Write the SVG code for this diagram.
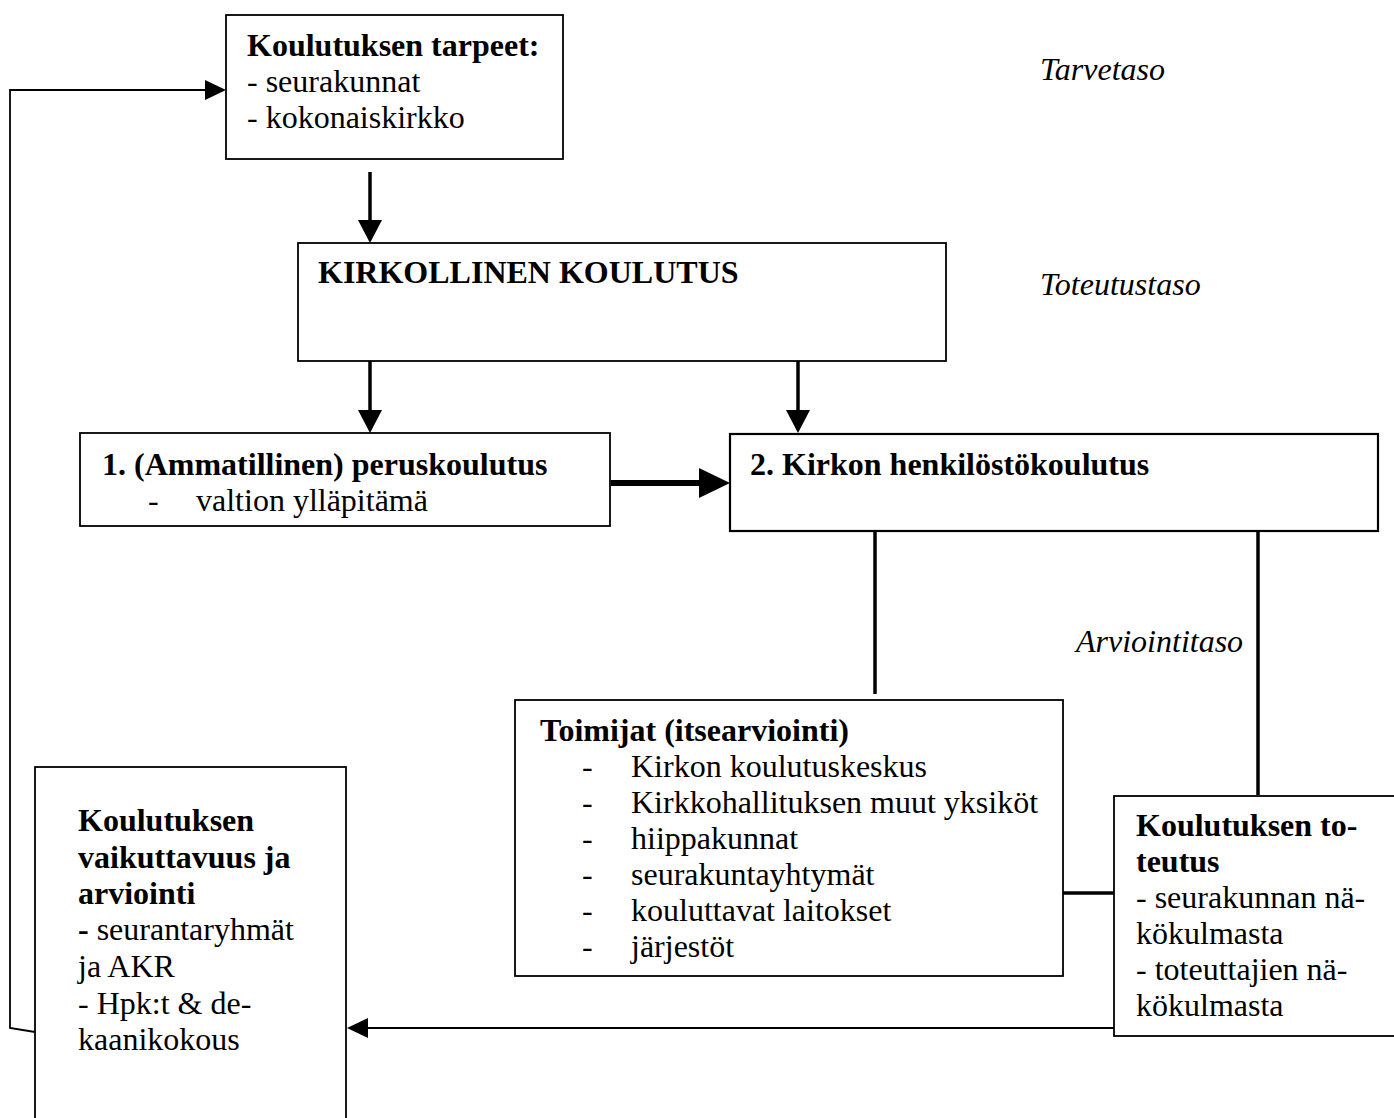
<svg xmlns="http://www.w3.org/2000/svg" width="1394" height="1118" viewBox="0 0 1394 1118">
<style>
text{font-family:"Liberation Serif","Times New Roman",serif;font-size:32px;fill:#000}
.b{font-weight:bold}
.i{font-style:italic}
.box{fill:#fff;stroke:#000;stroke-width:1.8}
.c3{fill:none;stroke:#000;stroke-width:3.5}
.c6{fill:none;stroke:#000;stroke-width:6}
.c1{fill:none;stroke:#000;stroke-width:1.8}
</style>
<defs>
<marker id="am" markerUnits="userSpaceOnUse" markerWidth="24" markerHeight="24" refX="0" refY="12" orient="auto" viewBox="0 0 24 24"><path d="M0,0 L23,12 L0,24 z" fill="#000"/></marker>
<marker id="al" markerUnits="userSpaceOnUse" markerWidth="32" markerHeight="30" refX="0" refY="15" orient="auto" viewBox="0 0 32 30"><path d="M0,0 L31,15 L0,30 z" fill="#000"/></marker>
<marker id="as" markerUnits="userSpaceOnUse" markerWidth="22" markerHeight="20" refX="0" refY="10" orient="auto" viewBox="0 0 22 20"><path d="M0,0 L21,10 L0,20 z" fill="#000"/></marker>
</defs>
<g id="connectors">
<line class="c3" x1="370" y1="172" x2="370" y2="220" marker-end="url(#am)"/>
<line class="c3" x1="370" y1="361" x2="370" y2="410" marker-end="url(#am)"/>
<line class="c3" x1="798" y1="361" x2="798" y2="410" marker-end="url(#am)"/>
<line class="c6" x1="611" y1="483" x2="699" y2="483" marker-end="url(#al)"/>
<line class="c3" x1="875" y1="531" x2="875" y2="694"/>
<line class="c3" x1="1258" y1="531" x2="1258" y2="795"/>
<line class="c3" x1="1063" y1="893" x2="1114" y2="893"/>
<line class="c1" x1="1114" y1="1028" x2="368" y2="1028" marker-end="url(#as)"/>
<polyline class="c1" points="35,1032 10,1028 10,90 205,90" marker-end="url(#as)"/>
</g>
<g id="tarpeet">
<rect class="box" x="226" y="15" width="337" height="144"/>
<text class="b" x="247" y="56">Koulutuksen tarpeet:</text>
<text x="247" y="92">- seurakunnat</text>
<text x="247" y="128">- kokonaiskirkko</text>
</g>
<g id="tarvetaso"><text class="i" x="1040" y="80">Tarvetaso</text></g>
<g id="kirkollinen">
<rect class="box" x="298" y="243" width="648" height="118"/>
<text class="b" x="318" y="283">KIRKOLLINEN KOULUTUS</text>
</g>
<g id="toteutustaso"><text class="i" x="1040" y="295">Toteutustaso</text></g>
<g id="peruskoulutus">
<rect class="box" x="80" y="433" width="530" height="93"/>
<text class="b" x="102" y="475">1. (Ammatillinen) peruskoulutus</text>
<text x="148" y="511">-</text>
<text x="196" y="511">valtion ylläpitämä</text>
</g>
<g id="henkilosto">
<rect class="box" x="730" y="434" width="648" height="97" style="stroke-width:2.2"/>
<text class="b" x="750" y="475">2. Kirkon henkilöstökoulutus</text>
</g>
<g id="arviointitaso"><text class="i" x="1076" y="652">Arviointitaso</text></g>
<g id="toimijat">
<rect class="box" x="515" y="700" width="548" height="276"/>
<text class="b" x="540" y="741">Toimijat (itsearviointi)</text>
<text x="582" y="777">-</text><text x="631" y="777">Kirkon koulutuskeskus</text>
<text x="582" y="813">-</text><text x="631" y="813">Kirkkohallituksen muut yksiköt</text>
<text x="582" y="849">-</text><text x="631" y="849">hiippakunnat</text>
<text x="582" y="885">-</text><text x="631" y="885">seurakuntayhtymät</text>
<text x="582" y="921">-</text><text x="631" y="921">kouluttavat laitokset</text>
<text x="582" y="957">-</text><text x="631" y="957">järjestöt</text>
</g>
<g id="toteutus">
<rect class="box" x="1114" y="796" width="300" height="240"/>
<text class="b" x="1136" y="836">Koulutuksen to-</text>
<text class="b" x="1136" y="872">teutus</text>
<text x="1136" y="908">- seurakunnan nä-</text>
<text x="1136" y="944">kökulmasta</text>
<text x="1136" y="980">- toteuttajien nä-</text>
<text x="1136" y="1016">kökulmasta</text>
</g>
<g id="vaikuttavuus">
<rect class="box" x="35" y="767" width="311" height="380"/>
<text class="b" x="78" y="831">Koulutuksen</text>
<text class="b" x="78" y="868">vaikuttavuus ja</text>
<text class="b" x="78" y="904">arviointi</text>
<text x="78" y="940"><tspan font-weight="bold">-</tspan> seurantaryhmät</text>
<text x="78" y="977">ja AKR</text>
<text x="78" y="1014">- Hpk:t &amp; de-</text>
<text x="78" y="1050">kaanikokous</text>
</g>
</svg>
